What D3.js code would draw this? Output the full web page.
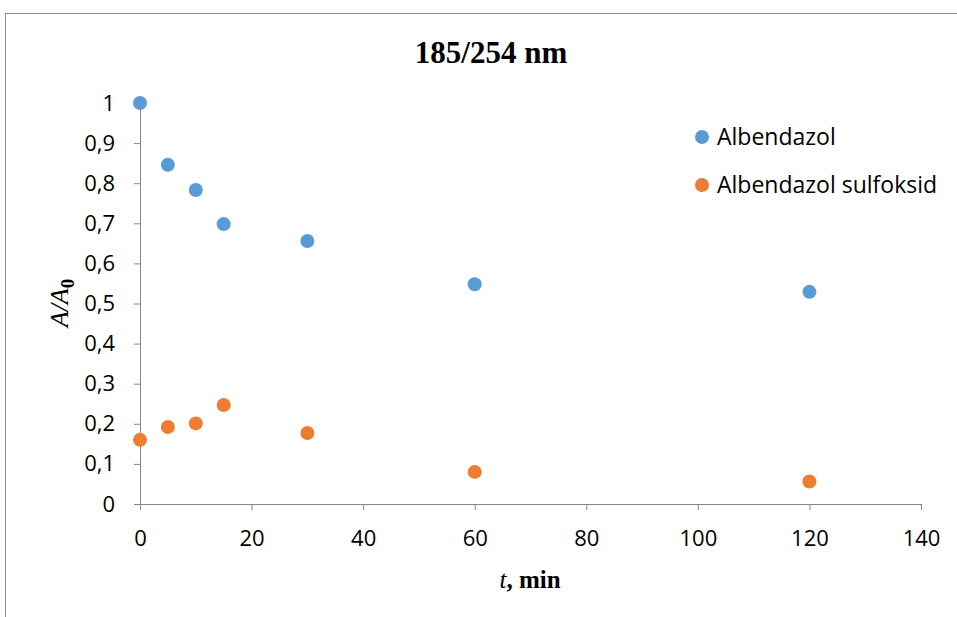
<!DOCTYPE html>
<html>
<head>
<meta charset="utf-8">
<script src="https://cdn.jsdelivr.net/npm/d3@7"></script>
<style>
  body { margin: 0; background: #fff; }
  svg { display: block; }
</style>
</head>
<body>
<div id="chart"></div>
<script>
// data
const times = [0, 5, 10, 15, 30, 60, 120];
const albendazol = [1.0, 0.846, 0.783, 0.698, 0.656, 0.548, 0.529];
const sulfoksid = [0.160, 0.192, 0.201, 0.247, 0.177, 0.080, 0.056];
const seriesNames = ['Albendazol', 'Albendazol sulfoksid'];
const seriesColors = ['#5B9BD5', '#ED7D31'];
const yTicks = [0, 0.1, 0.2, 0.3, 0.4, 0.5, 0.6, 0.7, 0.8, 0.9, 1];
const xTicks = [0, 20, 40, 60, 80, 100, 120, 140];

const width = 957, height = 617;
const margin = { left: 140, right: 36, top: 103, bottom: 113 };

const svg = d3.select('#chart').append('svg')
  .attr('width', width)
  .attr('height', height);

// chart border (runs off right/bottom edge)
svg.append('rect')
  .attr('x', 5.5).attr('y', 13.5)
  .attr('width', 1000).attr('height', 700)
  .attr('fill', 'none')
  .attr('stroke', '#8c8c8c')
  .attr('stroke-width', 1);

const x = d3.scaleLinear().domain([0, 140]).range([margin.left, width - margin.right]);
const y = d3.scaleLinear().domain([0, 1]).range([height - margin.bottom, margin.top]);

const tickFont = '"Open Sans", "Noto Sans", sans-serif';
const serif = '"Liberation Serif", "Times New Roman", serif';
const axisColor = '#868686';

// x axis
const xAxis = svg.append('g')
  .attr('transform', `translate(0,${y(0)})`)
  .call(d3.axisBottom(x).tickValues(xTicks).tickSize(6).tickPadding(20).tickSizeOuter(0));

// y axis
const yAxis = svg.append('g')
  .attr('transform', `translate(${x(0)},0)`)
  .call(d3.axisLeft(y).tickValues(yTicks).tickSize(6).tickPadding(19).tickSizeOuter(0)
    .tickFormat(d => d3.format('.1~f')(d).replace('.', ',')));

[xAxis, yAxis].forEach(a => {
  a.select('.domain').attr('stroke', axisColor);
  a.selectAll('.tick line').attr('stroke', axisColor);
  a.selectAll('.tick text')
    .attr('fill', '#000')
    .style('font-family', tickFont)
    .style('font-size', '22px');
});

// points
const series = [albendazol, sulfoksid];
series.forEach((vals, i) => {
  svg.append('g')
    .selectAll('circle')
    .data(times.map((t, j) => ({ t, v: vals[j] })))
    .join('circle')
    .attr('cx', d => x(d.t))
    .attr('cy', d => y(d.v))
    .attr('r', 7)
    .attr('fill', seriesColors[i]);
});

// title
svg.append('text')
  .attr('x', 491).attr('y', 63)
  .attr('text-anchor', 'middle')
  .style('font-family', serif)
  .style('font-weight', 'bold')
  .style('font-size', '31px')
  .text('185/254 nm');

// y label
const yLab = svg.append('text')
  .attr('transform', 'translate(68,303) rotate(-90)')
  .attr('text-anchor', 'middle')
  .style('font-family', serif)
  .style('font-size', '26px');
yLab.append('tspan').style('font-style', 'italic').text('A/A');
yLab.append('tspan').attr('dy', 6).style('font-weight', 'bold').style('font-size', '19px').text('0');

// x label
const xLab = svg.append('text')
  .attr('x', 530).attr('y', 588)
  .attr('text-anchor', 'middle')
  .style('font-family', serif)
  .style('font-size', '25px');
xLab.append('tspan').style('font-style', 'italic').text('t');
xLab.append('tspan').style('font-weight', 'bold').text(', min');

// legend
const legend = svg.append('g');
seriesNames.forEach((name, i) => {
  const gy = 137 + i * 48;
  legend.append('circle')
    .attr('cx', 702).attr('cy', gy).attr('r', 7)
    .attr('fill', seriesColors[i]);
  legend.append('text')
    .attr('x', 717).attr('y', gy)
    .attr('dy', '0.35em')
    .style('font-family', tickFont)
    .style('font-size', '23px')
    .text(name);
});
</script>
</body>
</html>
